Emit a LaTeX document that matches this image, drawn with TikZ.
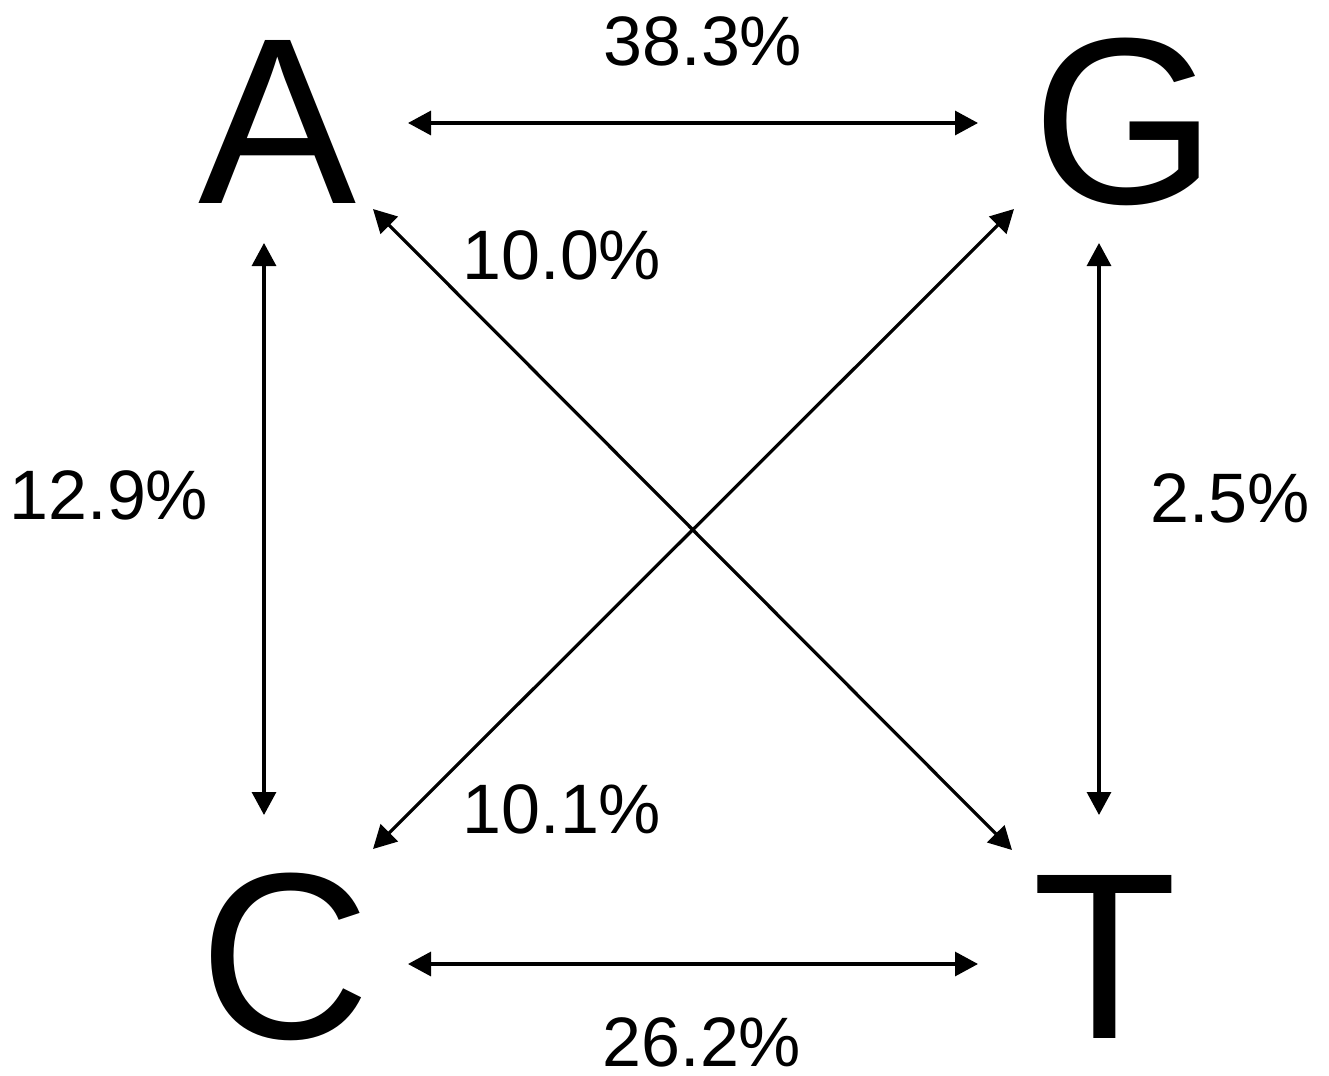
\documentclass[tikz,border=0pt]{standalone}
\usepackage{fontspec}
\setmainfont{Liberation Sans}
\usetikzlibrary{arrows.meta}
\tikzset{
  base/.style={x=0.5pt,y=-0.5pt},
  letter/.style={inner sep=0pt,anchor=base,font=\fontsize{118.5}{120}\selectfont},
  pct/.style={inner sep=0pt,anchor=base,font=\fontsize{35}{40}\selectfont},
  link/.style={line width=1.6pt,{Triangle[length=11.5pt,width=12pt]}-{Triangle[length=11.5pt,width=12pt]}}
}
\begin{document}
\begin{tikzpicture}[base]
\useasboundingbox (0,0) rectangle (1329,1076);
% letters
\node[letter] (A) at (277.5,203) {A};
\node[letter] (G) at (1125,203) {G};
\node[letter] (C) at (285,1038) {C};
\node[letter] (T) at (1104.5,1038) {T};
% connector end points
\coordinate (AGa) at (408,123);
\coordinate (AGg) at (978,123);
\coordinate (CTc) at (408,964);
\coordinate (CTt) at (978,964);
\coordinate (ACa) at (264,243);
\coordinate (ACc) at (264,815);
\coordinate (GTg) at (1099,243);
\coordinate (GTt) at (1099,815);
\coordinate (ATa) at (373,209);
\coordinate (ATt) at (1012,850);
\coordinate (CGc) at (373,849);
\coordinate (CGg) at (1014,209);
% connectors
\draw[link] (AGa) -- (AGg);
\draw[link] (CTc) -- (CTt);
\draw[link] (ACa) -- (ACc);
\draw[link] (GTg) -- (GTt);
\draw[link] (ATa) -- (ATt);
\draw[link] (CGc) -- (CGg);
% labels
\node[pct] (lAG) at (703,65) {38.3\%};
\node[pct] (lAT) at (562,279) {10.0\%};
\node[pct] (lAC) at (109,519) {12.9\%};
\node[pct] (lGT) at (1230,522) {2.5\%};
\node[pct] (lCG) at (562,833) {10.1\%};
\node[pct] (lCT) at (702,1066) {26.2\%};
\end{tikzpicture}
\end{document}
